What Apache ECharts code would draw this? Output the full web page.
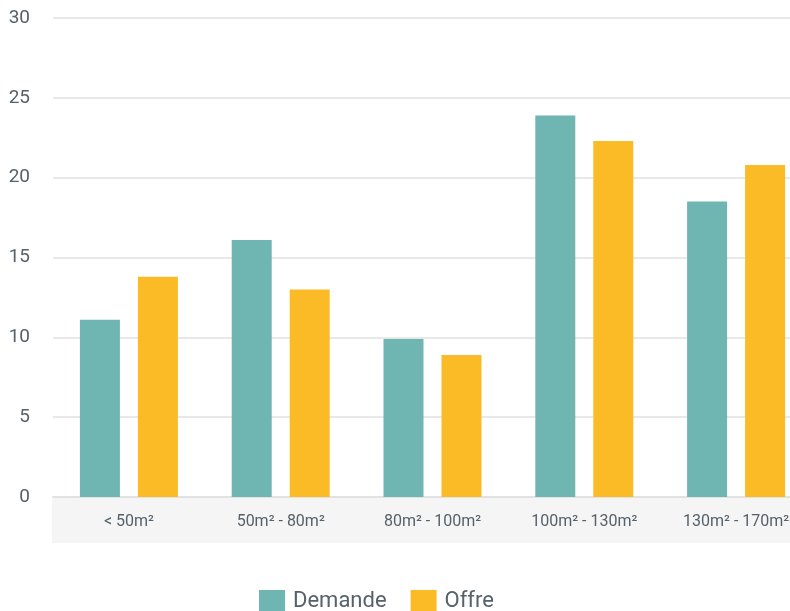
<!DOCTYPE html>
<html>
<head>
<meta charset="utf-8">
<script src="https://cdn.jsdelivr.net/npm/echarts@6/dist/echarts.min.js"></script>
<style>
  html, body { margin: 0; padding: 0; background: #fff; }
  #chart { width: 790px; height: 611px; }
</style>
</head>
<body>
<div id="chart"></div>
<script>
const categories = ['< 50m²', '50m² - 80m²', '80m² - 100m²', '100m² - 130m²', '130m² - 170m²'];
const demande = [11.1, 16.1, 9.9, 23.9, 18.5];
const offre = [13.8, 13.0, 8.9, 22.3, 20.8];
const yTicks = { min: 0, max: 30, interval: 5 };

const chart = echarts.init(document.getElementById('chart'));
const textColor = '#56616a';

chart.setOption({
  backgroundColor: '#ffffff',
  animation: false,
  textStyle: { fontFamily: 'Roboto' },
  color: ['#6fb5b2', '#fbbb26'],
  // plot runs past the right edge of the picture, like the reference
  grid: { left: 53, width: 759, top: 18, bottom: 114, outerBoundsMode: 'none' },
  graphic: [
    {
      type: 'rect',
      z: -1,
      shape: { x: 52, y: 498, width: 738, height: 45 },
      style: { fill: '#f5f5f5' }
    }
  ],
  legend: {
    bottom: -6,
    left: 254,
    itemWidth: 26,
    itemHeight: 22,
    itemGap: 24,
    icon: 'rect',
    textStyle: { color: textColor, fontSize: 22, fontFamily: 'Roboto', padding: [0, 0, 0, 3] },
    data: ['Demande', 'Offre']
  },
  xAxis: {
    type: 'category',
    data: categories,
    axisTick: { show: false },
    axisLine: { lineStyle: { color: '#e2e2e2', width: 2 } },
    axisLabel: { color: textColor, fontSize: 16, margin: 17, interval: 0 }
  },
  yAxis: {
    type: 'value',
    min: yTicks.min,
    max: yTicks.max,
    interval: yTicks.interval,
    axisLine: { show: false },
    axisTick: { show: false },
    axisLabel: { color: textColor, fontSize: 19, margin: 23 },
    splitLine: { lineStyle: { color: '#e8e8e8', width: 2 } }
  },
  series: [
    { name: 'Demande', type: 'bar', barWidth: 40, barGap: '45%', data: demande },
    { name: 'Offre', type: 'bar', barWidth: 40, barGap: '45%', data: offre }
  ]
});
</script>
</body>
</html>
